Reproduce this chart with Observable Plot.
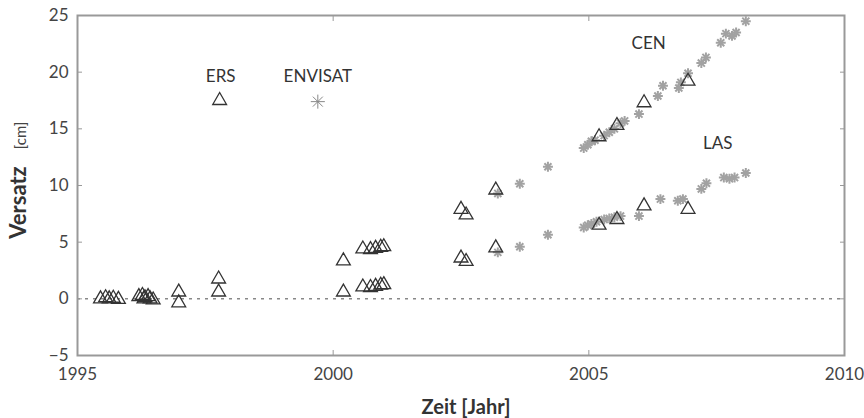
<!DOCTYPE html>
<html>
<head>
<meta charset="utf-8">
<script src="https://cdn.jsdelivr.net/npm/d3@7"></script>
<script src="https://cdn.jsdelivr.net/npm/@observablehq/plot@0.6"></script>
<style>
  html, body { margin: 0; padding: 0; background: #fff; }
  #chart svg { display: block; }
</style>
</head>
<body>
<div id="chart"></div>
<script>
// ERS / Jason triangles (hollow)
const triYear = [
  1995.45, 1995.55, 1995.62, 1995.70, 1995.80,
  1996.20, 1996.27, 1996.32, 1996.38, 1996.42, 1996.48, 1996.30,
  1996.98, 1996.98,
  1997.76, 1997.76,
  1997.78,
  2000.20, 2000.20,
  2000.58, 2000.73, 2000.83, 2000.93, 2000.99,
  2000.58, 2000.73, 2000.83, 2000.93, 2000.99,
  2002.50, 2002.60, 2002.50, 2002.60,
  2003.18, 2003.18,
  2005.20, 2005.55, 2006.08, 2006.94,
  2005.20, 2005.55, 2006.08, 2006.94
];
const triValue = [
  0.0, 0.1, 0.0, 0.05, -0.05,
  0.2, 0.3, 0.1, 0.2, 0.0, -0.1, 0.0,
  0.6, -0.35,
  1.75, 0.6,
  17.5,
  3.35, 0.6,
  4.4, 4.35, 4.45, 4.55, 4.6,
  1.05, 1.0, 1.1, 1.2, 1.25,
  7.9, 7.4, 3.6, 3.3,
  9.6, 4.5,
  14.3, 15.3, 17.3, 19.2,
  6.5, 7.0, 8.2, 7.9
];

// ENVISAT asterisks (grey)
const astYear = [
  2003.22, 2003.65, 2004.20, 2004.90, 2004.98, 2005.05, 2005.12, 2005.30, 2005.40, 2005.50,
  2005.62, 2005.70, 2005.98, 2006.35, 2006.45, 2006.76, 2006.80, 2006.94, 2007.20, 2007.29,
  2007.58, 2007.68, 2007.80, 2007.88, 2008.07,
  2003.22, 2003.65, 2004.20, 2004.90, 2004.98, 2005.05, 2005.15, 2005.30, 2005.40, 2005.50,
  2005.62, 2005.98, 2006.40, 2006.74, 2006.84, 2007.20, 2007.30, 2007.64, 2007.75, 2007.85,
  2008.07
];
const astValue = [
  9.3, 10.15, 11.65, 13.3, 13.6, 13.9, 14.0, 14.4, 14.7, 15.0,
  15.5, 15.7, 16.3, 17.9, 18.8, 18.6, 19.1, 19.9, 20.8, 21.3,
  22.6, 23.4, 23.2, 23.5, 24.5,
  4.1, 4.6, 5.65, 6.3, 6.5, 6.6, 6.8, 7.0, 7.1, 7.2,
  7.3, 7.3, 8.8, 8.65, 8.8, 9.7, 10.2, 10.7, 10.6, 10.7,
  11.1
];

// legend-like annotations
const labelText = ["ERS", "ENVISAT", "CEN", "LAS"];
const labelYear = [1997.8, 1999.7, 2006.17, 2007.52];
const labelValue = [19.6, 19.6, 22.5, 13.7];
const envisatKeyYear = [1999.7];
const envisatKeyValue = [17.4];

const xTicks = [1995, 2000, 2005, 2010];
const yTicks = [-5, 0, 5, 10, 15, 20, 25];

const tri = triYear.map((x, i) => ({x, y: triValue[i]}));
const ast = astYear.map((x, i) => ({x, y: astValue[i]}));
const labels = labelText.map((t, i) => ({t, x: labelYear[i], y: labelValue[i]}));
const envKey = envisatKeyYear.map((x, i) => ({x, y: envisatKeyValue[i]}));

const font = "Lato, 'Open Sans', sans-serif";
const axisColor = "#999";
const textColor = "#444";

const chart = Plot.plot({
  width: 864,
  height: 418,
  marginLeft: 77,
  marginRight: 20,
  marginTop: 15,
  marginBottom: 63,
  style: {fontFamily: font, background: "#fff", overflow: "visible"},
  x: {domain: [1995, 2010], label: null},
  y: {domain: [-5, 25], label: null},
  marks: [
    Plot.ruleY([0], {stroke: "#888", strokeWidth: 1.5, strokeDasharray: "3,5"}),
    // tick labels
    Plot.axisX({ticks: xTicks, tickSize: 0, tickPadding: 12, tickFormat: d => String(d), fontSize: 17, fill: textColor, label: null}),
    Plot.axisY({ticks: yTicks, tickSize: 0, tickPadding: 9, fontSize: 17, fill: textColor, label: null}),
    // inward ticks on all four sides
    Plot.axisX({anchor: "bottom", ticks: xTicks, tickSize: 5, dy: -5, tickFormat: () => "", stroke: axisColor, label: null}),
    Plot.axisX({anchor: "top", ticks: xTicks, tickSize: 5, dy: 5, tickFormat: () => "", stroke: axisColor, label: null}),
    Plot.axisY({anchor: "left", ticks: yTicks, tickSize: 5, dx: 5, tickFormat: () => "", stroke: axisColor, label: null}),
    Plot.axisY({anchor: "right", ticks: yTicks, tickSize: 5, dx: -5, tickFormat: () => "", stroke: axisColor, label: null}),
    Plot.frame({stroke: axisColor, strokeWidth: 2}),
    // ENVISAT asterisks
    Plot.dot(ast, {x: "x", y: "y", symbol: "plus", r: 3.3, stroke: "#a2a2a2", strokeWidth: 2}),
    Plot.dot(ast, {x: "x", y: "y", symbol: "times", r: 3.3, stroke: "#a2a2a2", strokeWidth: 2}),
    Plot.dot(envKey, {x: "x", y: "y", symbol: "plus", r: 4.6, stroke: "#888", strokeWidth: 1}),
    Plot.dot(envKey, {x: "x", y: "y", symbol: "times", r: 4.6, stroke: "#888", strokeWidth: 1}),
    // triangles
    Plot.dot(tri, {x: "x", y: "y", symbol: "triangle2", r: 6.6, stroke: "#333", strokeWidth: 1.3, fill: "none"}),
    // annotations
    Plot.text(labels, {x: "x", y: "y", text: "t", fontSize: 17, fill: "#333"}),
    // axis titles
    Plot.text(["Zeit [Jahr]"], {frameAnchor: "bottom", textAnchor: "middle", lineAnchor: "middle", dy: 52, dx: 5, fontSize: 20, fontWeight: "bold", fill: "#333"}),
    Plot.text(["Versatz"], {frameAnchor: "left", textAnchor: "middle", lineAnchor: "middle", rotate: -90, dx: -59, dy: 17, fontSize: 22, fontWeight: "bold", fill: "#333"}),
    Plot.text(["[cm]"], {frameAnchor: "left", textAnchor: "middle", lineAnchor: "middle", rotate: -90, dx: -56, dy: -50, fontSize: 15, fill: "#444"})
  ]
});

document.getElementById("chart").appendChild(chart);
</script>
</body>
</html>
